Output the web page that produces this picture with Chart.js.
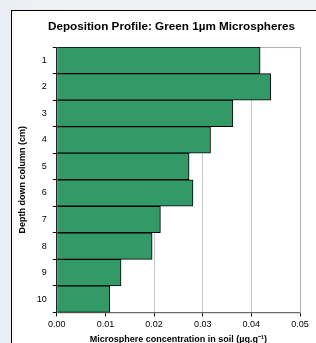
<!DOCTYPE html>
<html>
<head>
<meta charset="utf-8">
<script src="https://cdn.jsdelivr.net/npm/chart.js@4"></script>
<style>
  html, body { margin: 0; padding: 0; overflow: hidden; }
  body {
    width: 316px; height: 343px;
    background: linear-gradient(90deg, #e9eef4 0px, #eef1f4 40px, #f0f1f3 316px);
  }
  #box {
    position: absolute; left: 11px; top: 10px;
    width: 320px; height: 345px;
    background: #fff;
    border-left: 1px solid #000; border-top: 1px solid #000;
  }
  #chart { display: block; }
</style>
</head>
<body>
<div id="box"><canvas id="chart"></canvas></div>
<script>
const depths = ['1', '2', '3', '4', '5', '6', '7', '8', '9', '10']
const concentration = [0.0418, 0.0440, 0.0362, 0.0316, 0.0272, 0.0280, 0.0213, 0.0196, 0.0132, 0.0109]
const xTicks = [0, 0.01, 0.02, 0.03, 0.04, 0.05]

const font = 'Arial, "Liberation Sans", sans-serif'

// gray frame round the plot area, under the bars
const plotFrame = {
  id: 'plotFrame',
  beforeDatasetsDraw(chart) {
    const {ctx, chartArea: a} = chart
    ctx.save()
    ctx.strokeStyle = '#b0b0b0'
    ctx.lineWidth = 1
    ctx.strokeRect(a.left + 0.5, a.top + 0.5, a.right - a.left, a.bottom - a.top)
    ctx.restore()
  }
}

// the original title sits a bit right of the canvas centre
const titleShift = {
  id: 'titleShift',
  afterLayout(chart) {
    const t = chart.titleBlock
    if (t) { t.left += 13; t.right += 13 }
  }
}

let chart = document.getElementById('chart')
chart.width = 320
chart.height = 345
chart.style.width = '320px'
chart.style.height = '345px'

new Chart(chart.getContext('2d'), {
  type: 'bar',
  data: {
    labels: depths,
    datasets: [{
      data: concentration,
      backgroundColor: '#339966',
      borderColor: '#000',
      borderWidth: 1,
      barPercentage: 1,
      categoryPercentage: 1
    }]
  },
  options: {
    indexAxis: 'y',
    responsive: false,
    animation: false,
    layout: { padding: { left: 5, right: 32, top: 0, bottom: 11 } },
    plugins: {
      legend: { display: false },
      tooltip: { enabled: false },
      title: {
        display: true,
        text: 'Deposition Profile: Green 1µm Microspheres',
        color: '#000',
        font: { family: font, size: 11.7, weight: 'bold' },
        padding: { top: 9, bottom: 13 }
      }
    },
    scales: {
      x: {
        min: 0,
        max: 0.05,
        afterBuildTicks: axis => { axis.ticks = xTicks.map(v => ({value: v})) },
        ticks: {
          color: '#000',
          font: { family: font, size: 9 },
          padding: 3,
          maxRotation: 0,
          callback: v => v.toFixed(2)
        },
        grid: { color: '#c8c8c8', tickColor: '#000', tickLength: 4 },
        border: { color: '#000', width: 1 },
        title: {
          display: true,
          text: 'Microsphere concentration in soil (µg.g⁻¹)',
          color: '#000',
          font: { family: font, size: 9, weight: 'bold' },
          padding: { top: 1, bottom: 0 }
        }
      },
      y: {
        ticks: {
          color: '#000',
          font: { family: font, size: 9 },
          padding: 6
        },
        grid: { drawOnChartArea: false, offset: true, tickColor: '#000', tickLength: 4 },
        border: { color: '#000', width: 1 },
        title: {
          display: true,
          text: 'Depth down column (cm)',
          color: '#000',
          font: { family: font, size: 9, weight: 'bold' },
          padding: { top: 0, bottom: 3 }
        }
      }
    }
  },
  plugins: [plotFrame, titleShift]
})
</script>
</body>
</html>
